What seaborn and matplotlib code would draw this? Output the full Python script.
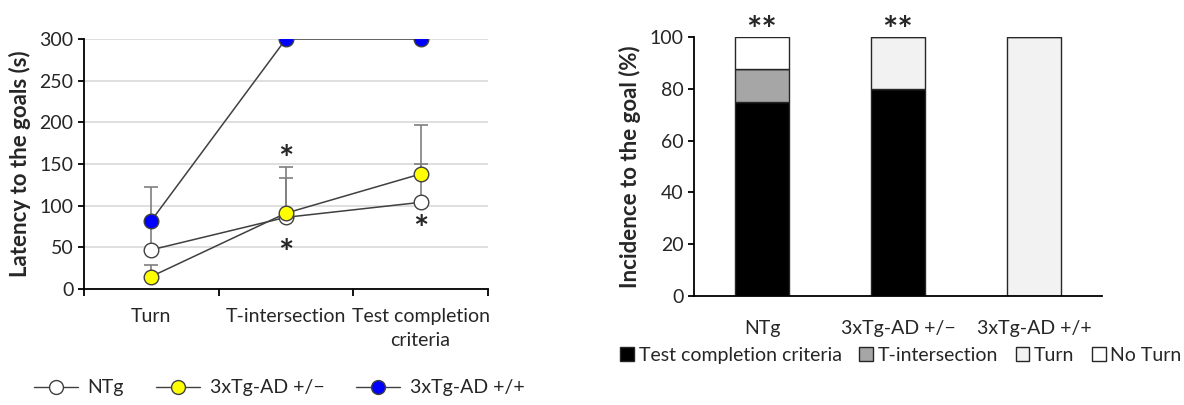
import numpy as np
import pandas as pd
import seaborn as sns
import matplotlib.pyplot as plt
from matplotlib.patches import Patch
from matplotlib.lines import Line2D

# left panel: latency (s)
stages = ['Turn', 'T-intersection', 'Test completion\ncriteria']
groups = ['NTg', '3xTg-AD +/\u2212', '3xTg-AD +/+']
latency_ntg = [47, 86, 104]
latency_het = [15, 91, 138]
latency_hom = [82, 300, 300]
err_ntg = [76, 47, 46]
err_het = [14, 55, 59]
err_hom = [0, 0, 0]
group_colors = ['white', '#ffff00', '#0000ff']

# right panel: incidence (%)
bar_groups = ['NTg', '3xTg-AD +/\u2212', '3xTg-AD +/+']
inc_test = [75, 80, 0]
inc_tint = [12.5, 0, 0]
inc_turn = [0, 20, 100]
inc_noturn = [12.5, 0, 0]
seg_names = ['Test completion criteria', 'T-intersection', 'Turn', 'No Turn']
seg_colors = ['black', '#a6a6a6', '#f2f2f2', 'white']

sns.set_style('white')
plt.rcParams['font.family'] = ['Lato', 'DejaVu Sans']
plt.rcParams['font.size'] = 14

fig = plt.figure(figsize=(11.84, 4.05), dpi=100)
ax1 = fig.add_axes([0.0709, 0.2864, 0.3412, 0.6173])
ax2 = fig.add_axes([0.5861, 0.2691, 0.3446, 0.6395])

# ---- line chart ----
x = np.arange(len(stages))
df = pd.DataFrame({
    'stage': np.tile(x, 3),
    'latency': latency_ntg + latency_het + latency_hom,
    'group': np.repeat(groups, 3),
})
errs = [err_ntg, err_het, err_hom]
vals = [latency_ntg, latency_het, latency_hom]
for v, e in zip(vals, errs):
    e = np.array(e)
    m = e > 0
    ax1.errorbar(x[m], np.array(v)[m], yerr=[np.zeros(m.sum()), e[m]], fmt='none',
                 ecolor='#7f7f7f', elinewidth=1.2, capsize=5, capthick=1.2, zorder=2)
sns.lineplot(data=df, x='stage', y='latency', hue='group', hue_order=groups,
             palette=['#404040'] * 3, ax=ax1, legend=False, linewidth=1.1, zorder=3)
for v, c in zip(vals, group_colors):
    ax1.plot(x, v, 'o', ms=10.5, mfc=c, mec='#404040', mew=1, zorder=4)

ax1.set_xlim(-0.5, 2.5)
ax1.set_ylim(0, 300)
ax1.set_yticks(range(0, 301, 50))
ax1.yaxis.grid(True, color='#d9d9d9', lw=1.2)
ax1.set_axisbelow(True)
ax1.set_xticks(x)
ax1.set_xticklabels(stages, fontsize=14, color='#262626', linespacing=1.45)
ax1.set_xticks([-0.5, 0.5, 1.5, 2.5], minor=True)
ax1.tick_params(axis='x', which='major', length=0, pad=14)
ax1.tick_params(axis='x', which='minor', length=5, width=1.3, color='black', direction='out', bottom=True)
ax1.tick_params(axis='y', length=4, width=1.3, color='black', labelsize=14, left=True, labelcolor='#262626')
for s in ['top', 'right']:
    ax1.spines[s].set_visible(False)
for s in ['left', 'bottom']:
    ax1.spines[s].set_color('black')
    ax1.spines[s].set_linewidth(1.3)
ax1.set_xlabel('')
ax1.set_ylabel('Latency to the goals (s)', fontsize=16, fontweight='bold', labelpad=6)
for xs, ys in [(1, 154), (1, 42), (2, 70)]:
    ax1.text(xs, ys, '*', ha='center', va='center', fontsize=26, fontweight='bold')

handles1 = [Line2D([0], [0], color='#404040', lw=1, marker='o', ms=10, mfc=c, mec='#404040')
            for c in group_colors]
fig.legend(handles1, groups, loc='center', bbox_to_anchor=(0.236, 0.042), ncol=3,
           frameon=False, fontsize=14, handlelength=2.25, columnspacing=1.65, handletextpad=0.5)

# ---- stacked bars ----
bdf = pd.DataFrame({'group': bar_groups, 'test': inc_test, 'tint': inc_tint,
                    'turn': inc_turn, 'noturn': inc_noturn})
bottom = np.zeros(len(bar_groups))
for col, c in zip(['test', 'tint', 'turn', 'noturn'], seg_colors):
    sns.barplot(data=bdf, x='group', y=col, color=c, ax=ax2, width=0.4, bottom=bottom,
                edgecolor='#262626', linewidth=1, saturation=1)
    bottom = bottom + bdf[col].values
ax2.set_ylim(0, 100)
ax2.set_xlim(-0.5, 2.5)
ax2.set_yticks(range(0, 101, 20))
ax2.tick_params(axis='y', length=4, width=1.3, color='black', labelsize=14, left=True, labelcolor='#262626')
ax2.tick_params(axis='x', length=0, labelsize=14, pad=17, labelcolor='#262626')
for s in ['top', 'right']:
    ax2.spines[s].set_visible(False)
for s in ['left', 'bottom']:
    ax2.spines[s].set_color('black')
    ax2.spines[s].set_linewidth(1.3)
ax2.set_xlabel('')
ax2.set_ylabel('Incidence to the goal (%)', fontsize=16, fontweight='bold', labelpad=6)
for xs in [0, 1]:
    ax2.text(xs, 102, '**', ha='center', va='center', fontsize=26, fontweight='bold',
             clip_on=False)

handles2 = [Patch(facecolor=c, edgecolor='#262626', lw=1) for c in seg_colors]
fig.legend(handles2, seg_names, loc='center', bbox_to_anchor=(0.761, 0.123), ncol=4,
           frameon=False, fontsize=14, handlelength=0.7, handleheight=0.7,
           columnspacing=0.9, handletextpad=0.25)

fig.savefig('out.png', dpi=100)
